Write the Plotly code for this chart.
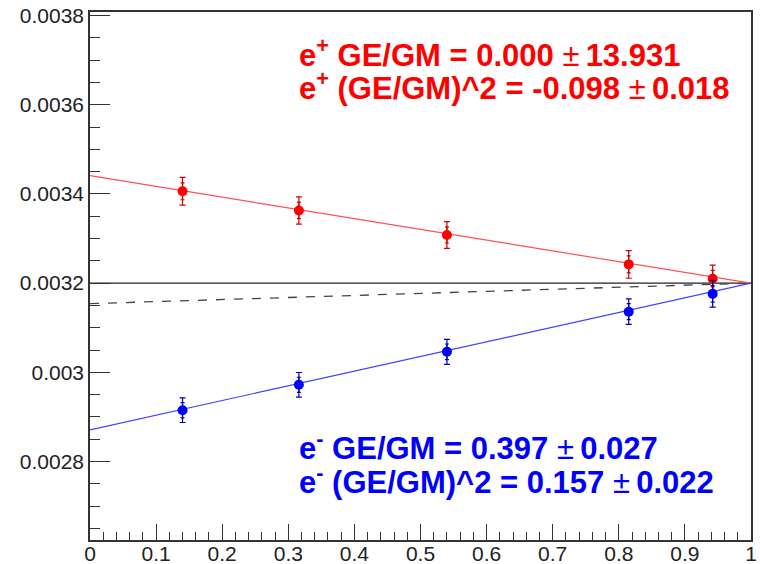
import plotly.graph_objects as go

# Measured asymmetry points (x = epsilon)
eps = [0.140, 0.316, 0.540, 0.815, 0.942]

pos_vals = [0.003406, 0.003363, 0.003308, 0.003242, 0.003210]
pos_err_tot = [0.0000310, 0.0000305, 0.0000300, 0.0000310, 0.0000305]
pos_err_stat = [0.0000190, 0.0000185, 0.0000180, 0.0000190, 0.0000185]

neg_vals = [0.002915, 0.002972, 0.003046, 0.003136, 0.003176]
neg_err_tot = [0.0000275, 0.0000276, 0.0000280, 0.0000285, 0.0000300]
neg_err_stat = [0.0000170, 0.0000170, 0.0000175, 0.0000180, 0.0000185]

# Linear fits: value at eps=0 and at eps=1
pos_fit = [0.003441, 0.0032]
neg_fit = [0.002871, 0.0032]
ref_fit = [0.003154, 0.0032]
ref_level = 0.0032

fit_x = [0.0, 1.0]

y_ticks = [0.0028, 0.0030, 0.0032, 0.0034, 0.0036, 0.0038]
y_tick_text = ["0.0028", "0.003", "0.0032", "0.0034", "0.0036", "0.0038"]
x_ticks = [0, 0.1, 0.2, 0.3, 0.4, 0.5, 0.6, 0.7, 0.8, 0.9, 1.0]
x_tick_text = ["0", "0.1", "0.2", "0.3", "0.4", "0.5", "0.6", "0.7", "0.8", "0.9", "1"]

pos_label = [
    "<b>e<sup>+</sup> GE/GM = 0.000 </b>±\u2009<b>13.931</b>",
    "<b>e<sup>+</sup> (GE/GM)^2 = -0.098 </b>±\u2009<b>0.018</b>",
]
neg_label = [
    "<b>e<sup>-</sup> GE/GM = 0.397 </b>±\u2009<b>0.027</b>",
    "<b>e<sup>-</sup> (GE/GM)^2 = 0.157 </b>±\u2009<b>0.022</b>",
]

RED = "#ff0000"
BLUE = "#0000ff"
FONT = "Liberation Sans, Arial, sans-serif"

fig = go.Figure()

# reference level and fit lines
fig.add_trace(go.Scatter(x=fit_x, y=[ref_level, ref_level], mode="lines",
                         line=dict(color="#222222", width=1.2), hoverinfo="skip"))
fig.add_trace(go.Scatter(x=fit_x, y=ref_fit, mode="lines",
                         line=dict(color="#444444", width=1.3, dash="dash"), hoverinfo="skip"))
fig.add_trace(go.Scatter(x=fit_x, y=pos_fit, mode="lines",
                         line=dict(color="#ff5050", width=1.2), hoverinfo="skip"))
fig.add_trace(go.Scatter(x=fit_x, y=neg_fit, mode="lines",
                         line=dict(color="#4040ff", width=1.2), hoverinfo="skip"))

# data points with total and statistical error bars
for vals, tot, stat, col, barcol in [
    (pos_vals, pos_err_tot, pos_err_stat, RED, "#cc0000"),
    (neg_vals, neg_err_tot, neg_err_stat, BLUE, "#0000aa"),
]:
    fig.add_trace(go.Scatter(
        x=eps, y=vals, mode="markers",
        marker=dict(color=col, size=1, opacity=0),
        error_y=dict(type="data", array=stat, color=barcol, thickness=1.2, width=2),
        hoverinfo="skip"))
    fig.add_trace(go.Scatter(
        x=eps, y=vals, mode="markers",
        marker=dict(color=col, size=10, symbol="circle"),
        error_y=dict(type="data", array=tot, color=barcol, thickness=1.2, width=3),
        hoverinfo="skip"))

annotations = []
for txt, yp in zip(pos_label, [0.922, 0.859]):
    annotations.append(dict(text=txt, xref="paper", yref="paper", x=0.313, y=yp,
                            xanchor="left", yanchor="middle", showarrow=False,
                            font=dict(family=FONT, size=31, color=RED)))
for txt, yp in zip(neg_label, [0.178, 0.113]):
    annotations.append(dict(text=txt, xref="paper", yref="paper", x=0.313, y=yp,
                            xanchor="left", yanchor="middle", showarrow=False,
                            font=dict(family=FONT, size=31, color=BLUE)))

fig.update_layout(
    width=760, height=564,
    margin=dict(l=90, r=9, t=12, b=24, autoexpand=False),
    paper_bgcolor="white", plot_bgcolor="white",
    showlegend=False,
    annotations=annotations,
    font=dict(family=FONT, size=21, color="#222222"),
    xaxis=dict(
        range=[0, 1], showgrid=False, zeroline=False, automargin=False,
        showline=True, linecolor="#333333", linewidth=1.5, mirror=True,
        ticks="inside", ticklen=16, tickwidth=1.2, tickcolor="#333333",
        tickvals=x_ticks, ticktext=x_tick_text, ticklabelstandoff=-6,
        minor=dict(ticks="inside", ticklen=8, dtick=0.02, tickwidth=1, tickcolor="#333333"),
        tickfont=dict(size=21, color="#222222"),
    ),
    yaxis=dict(
        range=[0.002624, 0.003808], showgrid=False, zeroline=False, automargin=False,
        showline=True, linecolor="#333333", linewidth=1.5, mirror=True,
        ticks="inside", ticklen=20, tickwidth=1.2, tickcolor="#333333",
        tickvals=y_ticks, ticktext=y_tick_text,
        minor=dict(ticks="inside", ticklen=10, dtick=0.00005, tickwidth=1, tickcolor="#333333"),
        tickfont=dict(size=21, color="#222222"),
    ),
)

fig.write_html("out.html")
